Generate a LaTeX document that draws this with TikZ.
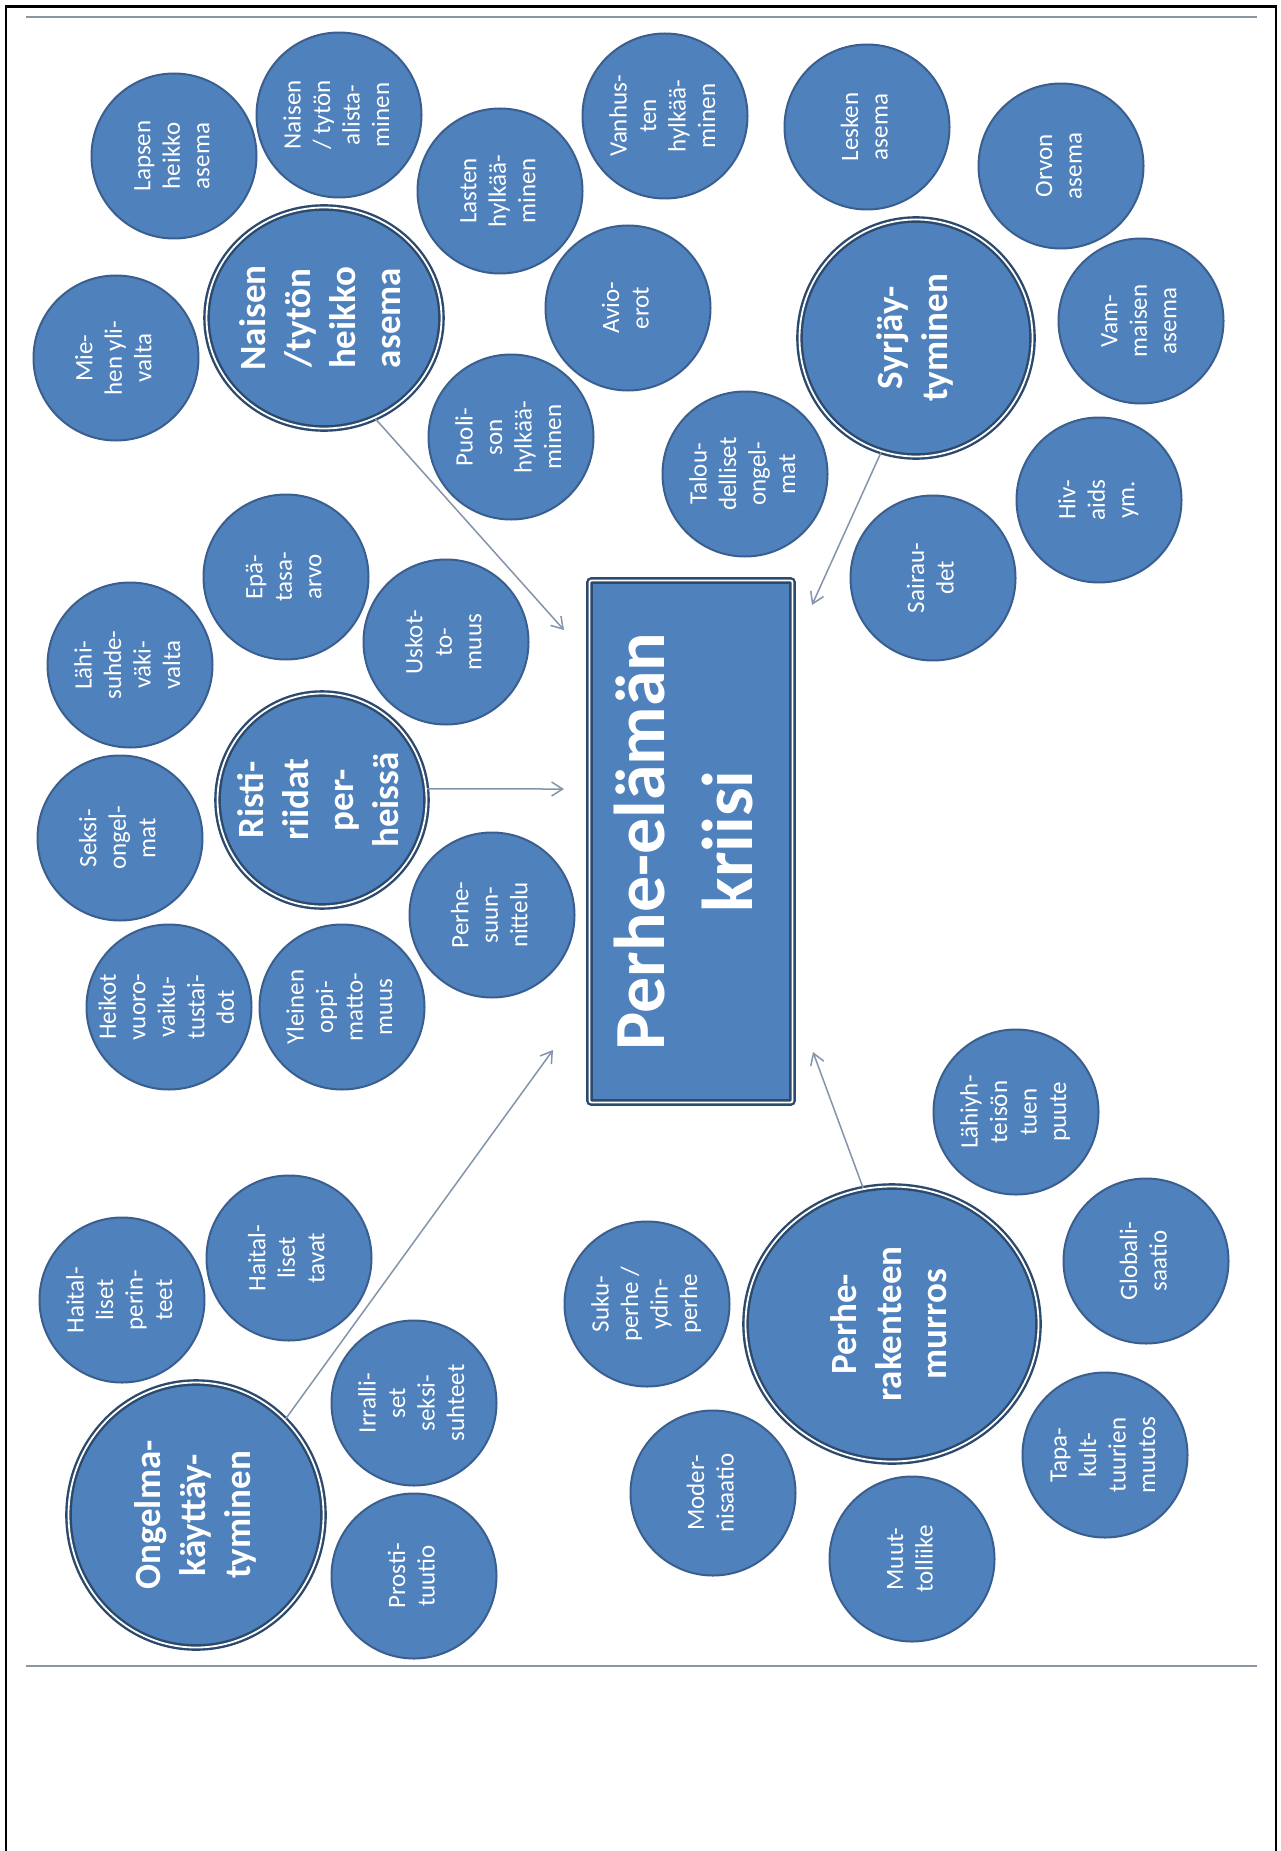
\documentclass[tikz,border=0pt]{standalone}
\usepackage{fontspec}
\setmainfont{Carlito}
\usepackage{graphicx}
\usetikzlibrary{shapes.geometric,arrows.meta}
\definecolor{cfill}{HTML}{4F81BD}
\definecolor{cline}{HTML}{3A5F8E}
\definecolor{cring}{HTML}{2C4A6E}
\definecolor{arrcol}{HTML}{8494AA}
\definecolor{rulecol}{HTML}{8C96A0}
\newcommand{\rt}[1]{\makebox[0pt]{\smash{\raisebox{-0.5\height}{\rotatebox{90}{\begin{tabular}{@{}c@{}}#1\end{tabular}}}}}}
\begin{document}
\begin{tikzpicture}[x=1pt,y=-1pt,
  small/.style={circle,fill=cfill,draw=cline,line width=2pt,minimum size=165pt,inner sep=0pt,text=white,font={\fontsize{25}{29.5}\selectfont}},
  big/.style={ellipse,fill=cfill,draw=cring,line width=2.4pt,double=white,double distance=1.8pt,inner sep=0pt,text=white,font={\fontsize{37}{45}\selectfont\bfseries}},
  core/.style={rectangle,rounded corners=2pt,fill=cfill,draw=cring,line width=2.4pt,double=white,double distance=1.8pt,inner sep=0pt,text=white,font={\fontsize{72}{88}\selectfont\bfseries}},
  conn/.style={draw=arrcol,line width=1.5pt,-{Straight Barb[length=11pt,width=14pt]}}]
\useasboundingbox (0,0) rectangle (1281,1851);
\fill[white] (0,0) rectangle (1281,1851);
% page frame and rules
\draw[line width=2.5pt] (6,1851) -- (6,6.5) -- (1276,6.5) -- (1276,1851);
\draw[rulecol,line width=2pt] (26,17.5) -- (1257,17.5);
\draw[rulecol,line width=2pt] (26,1666) -- (1257,1666);

% centre
\node[core,minimum width=203pt,minimum height=522pt] (kriisi) at (691,841.5) {\rt{Perhe-elämän\\kriisi}};

% big circles
\node[big,minimum width=235pt,minimum height=221pt] (naisen) at (324,318) {\rt{Naisen\\/tytön\\heikko\\asema}};
\node[big,minimum width=233pt,minimum height=237pt] (syrjay) at (916,338) {\rt{Syrjäy-\\tyminen}};
\node[big,minimum width=209pt,minimum height=213pt] (risti) at (322,800) {\rt{Risti-\\riidat\\per-\\heissä}};
\node[big,minimum width=255pt,minimum height=265pt] (ongelma) at (196,1515) {\rt{Ongelma-\\käyttäy-\\tyminen}};
\node[big,minimum width=293pt,minimum height=275pt] (rakenne) at (892,1324) {\rt{Perhe-\\rakenteen\\murros}};

% small circles
\node[small] (lapsen) at (174,156) {\rt{Lapsen\\heikko\\asema}};
\node[small] (alista) at (339,115) {\rt{Naisen\\/ tytön\\alista-\\minen}};
\node[small] (lasten) at (500,191) {\rt{Lasten\\hylkää-\\minen}};
\node[small] (vanhus) at (665,116) {\rt{Vanhus-\\ten\\hylkää-\\minen}};
\node[small] (lesken) at (867,127) {\rt{Lesken\\asema}};
\node[small] (orvon) at (1061,166) {\rt{Orvon\\asema}};
\node[small] (miehen) at (116,358) {\rt{Mie-\\hen yli-\\valta}};
\node[small] (avio) at (628,308) {\rt{Avio-\\erot}};
\node[small] (puoli) at (511,437) {\rt{Puoli-\\son\\hylkää-\\minen}};
\node[small] (vammaisen) at (1141,321) {\rt{Vam-\\maisen\\asema}};
\node[small] (talous) at (745,474) {\rt{Talou-\\delliset\\ongel-\\mat}};
\node[small] (hiv) at (1099,500) {\rt{Hiv-\\aids\\ym.}};
\node[small] (sairaudet) at (933,578) {\rt{Sairau-\\det}};
\node[small] (epa) at (286,577) {\rt{Epä-\\tasa-\\arvo}};
\node[small] (lahi) at (130,665) {\rt{Lähi-\\suhde-\\väki-\\valta}};
\node[small] (uskot) at (446,642) {\rt{Uskot-\\to-\\muus}};
\node[small] (seksi) at (120,838) {\rt{Seksi-\\ongel-\\mat}};
\node[small] (suunnittelu) at (492,915) {\rt{Perhe-\\suun-\\nittelu}};
\node[small] (heikot) at (169,1007) {\rt{Heikot\\vuoro-\\vaiku-\\tustai-\\dot}};
\node[small] (yleinen) at (342,1007) {\rt{Yleinen\\oppi-\\matto-\\muus}};
\node[small] (lahiyh) at (1016,1112) {\rt{Lähiyh-\\teisön\\tuen\\puute}};
\node[small] (perinteet) at (122,1300) {\rt{Haital-\\liset\\perin-\\teet}};
\node[small] (tavat) at (289,1258) {\rt{Haital-\\liset\\tavat}};
\node[small] (irralli) at (414,1403) {\rt{Irralli-\\set\\seksi-\\suhteet}};
\node[small] (prosti) at (414,1576) {\rt{Prosti-\\tuutio}};
\node[small] (suku) at (647,1304) {\rt{Suku-\\perhe /\\ydin-\\perhe}};
\node[small] (globali) at (1146,1261) {\rt{Globali-\\saatio}};
\node[small] (moder) at (713,1493) {\rt{Moder-\\nisaatio}};
\node[small] (tapa) at (1105,1455) {\rt{Tapa-\\kult-\\tuurien\\muutos}};
\node[small] (muutto) at (912,1559) {\rt{Muut-\\tolliike}};

% arrow tips near the centre box
\coordinate (t1) at (564,630);
\coordinate (t2) at (564,789);
\coordinate (t3) at (812,605);
\coordinate (t4) at (553,1050);
\coordinate (t5) at (813,1052);
\draw[conn] (naisen.-63) -- (t1);
\draw[conn] (risti.6) -- (t2);
\draw[conn] (syrjay.-107) -- (t3);
\draw[conn] (ongelma.47) -- (t4);
\draw[conn] (rakenne.102) -- (t5);
\end{tikzpicture}
\end{document}
